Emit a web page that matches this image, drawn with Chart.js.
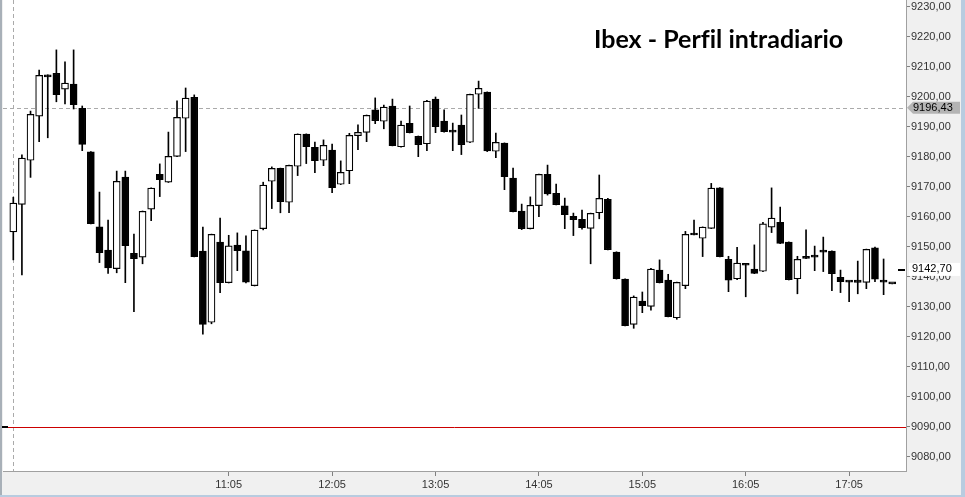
<!DOCTYPE html>
<html><head><meta charset="utf-8">
<script src="https://cdn.jsdelivr.net/npm/chart.js@4.4.1/dist/chart.umd.min.js"></script>
<style>html,body{margin:0;padding:0;background:#f0f0f0;overflow:hidden}#wrap{position:relative;width:965px;height:497px}</style>
</head><body><div id="wrap"><canvas id="c" width="965" height="497"></canvas></div>
<script>
const times = ["9:00","9:05","9:10","9:15","9:20","9:25","9:30","9:35","9:40","9:45","9:50","9:55",
"10:00","10:05","10:10","10:15","10:20","10:25","10:30","10:35","10:40","10:45","10:50","10:55",
"11:00","11:05","11:10","11:15","11:20","11:25","11:30","11:35","11:40","11:45","11:50","11:55",
"12:00","12:05","12:10","12:15","12:20","12:25","12:30","12:35","12:40","12:45","12:50","12:55",
"13:00","13:05","13:10","13:15","13:20","13:25","13:30","13:35","13:40","13:45","13:50","13:55",
"14:00","14:05","14:10","14:15","14:20","14:25","14:30","14:35","14:40","14:45","14:50","14:55",
"15:00","15:05","15:10","15:15","15:20","15:25","15:30","15:35","15:40","15:45","15:50","15:55",
"16:00","16:05","16:10","16:15","16:20","16:25","16:30","16:35","16:40","16:45","16:50","16:55",
"17:00","17:05","17:10","17:15","17:20","17:25","17:30"];
const openP = [9155.0,9164.2,9178.9,9193.6,9206.9,9207.9,9202.6,9204.3,9196.2,9181.7,9156.7,9149.0,
9142.8,9173.3,9147.9,9146.6,9162.6,9174.2,9171.6,9180.2,9192.9,9199.9,9148.6,9124.9,
9151.6,9138.1,9150.6,9148.7,9137.1,9156.1,9171.9,9176.2,9164.9,9176.9,9187.6,9183.2,
9178.9,9182.3,9170.9,9175.4,9187.1,9188.2,9195.7,9191.9,9197.0,9183.4,9191.2,9186.9,
9184.4,9199.3,9192.0,9188.5,9190.6,9184.9,9200.9,9201.6,9181.9,9184.6,9173.0,9162.0,
9156.1,9163.8,9174.2,9167.9,9163.7,9160.2,9159.2,9156.2,9161.4,9165.9,9148.3,9139.3,
9124.2,9132.0,9130.2,9142.3,9139.0,9126.4,9137.1,9154.2,9152.9,9156.2,9169.7,9145.9,
9139.4,9144.1,9142.6,9141.9,9156.6,9158.2,9151.6,9139.4,9146.2,9146.6,9148.5,9148.6,
9139.9,9138.5,9139.0,9138.2,9149.7,9138.5,9137.7];
const highP = [9166.6,9180.7,9195.3,9209.0,9207.4,9215.7,9211.7,9215.7,9197.0,9181.8,9168.3,9159.0,
9175.3,9175.3,9154.3,9162.0,9169.7,9177.7,9188.3,9198.7,9203.0,9200.7,9156.6,9154.3,
9159.6,9153.9,9154.7,9153.7,9155.7,9171.6,9176.7,9176.3,9177.3,9187.7,9187.7,9185.0,
9185.7,9184.3,9178.7,9187.9,9190.7,9194.0,9199.7,9197.3,9199.3,9192.0,9197.0,9187.0,
9198.9,9200.0,9195.7,9191.3,9194.0,9201.0,9205.3,9201.7,9188.0,9184.7,9176.3,9164.3,
9166.7,9174.3,9177.3,9171.0,9166.3,9161.3,9162.3,9161.3,9174.0,9166.2,9148.4,9139.4,
9133.7,9135.0,9142.9,9145.7,9140.9,9138.3,9155.2,9159.0,9156.7,9171.2,9169.8,9146.9,
9149.9,9144.2,9150.7,9158.2,9169.7,9163.3,9151.7,9146.9,9155.7,9150.3,9153.3,9148.7,
9142.3,9138.6,9145.3,9149.3,9150.0,9146.0,9137.7];
const lowP = [9145.7,9140.7,9173.2,9185.1,9186.4,9198.4,9197.7,9196.0,9182.1,9157.7,9144.8,9141.2,
9141.4,9138.1,9128.4,9144.4,9158.8,9166.8,9171.5,9180.1,9181.8,9146.7,9120.9,9124.4,
9134.8,9138.0,9142.1,9138.0,9137.0,9155.7,9162.8,9161.4,9161.4,9173.8,9177.8,9174.8,
9177.1,9168.1,9170.8,9171.1,9182.4,9185.1,9191.1,9189.4,9183.7,9183.3,9188.0,9180.1,
9182.1,9188.1,9188.3,9182.1,9180.8,9184.8,9196.2,9181.8,9179.8,9169.1,9161.7,9155.8,
9156.0,9160.1,9167.3,9164.0,9156.1,9153.8,9155.9,9144.4,9159.4,9149.0,9139.3,9123.7,
9122.9,9128.1,9128.9,9138.0,9126.7,9125.9,9136.1,9154.0,9146.8,9156.1,9146.7,9135.1,
9139.1,9133.4,9141.1,9141.8,9154.8,9151.1,9139.0,9134.4,9146.1,9142.1,9141.8,9135.4,
9134.8,9131.8,9134.4,9136.1,9138.4,9134.1,9137.7];
const closeP = [9164.6,9179.6,9194.2,9207.2,9206.7,9200.8,9204.6,9197.4,9184.2,9157.8,9148.1,9143.0,
9171.9,9150.4,9146.1,9161.9,9169.6,9172.4,9180.2,9193.2,9199.6,9146.8,9124.2,9154.2,
9138.1,9150.4,9148.8,9138.3,9155.6,9170.6,9176.2,9165.1,9177.2,9187.6,9183.4,9178.8,
9183.9,9169.8,9174.9,9187.2,9188.2,9193.9,9192.1,9196.6,9183.8,9190.6,9188.1,9184.1,
9198.6,9190.1,9188.4,9188.3,9184.1,9200.9,9202.9,9182.0,9184.9,9173.4,9161.8,9156.1,
9163.9,9174.2,9167.7,9164.1,9160.8,9159.1,9156.4,9161.2,9166.2,9149.1,9139.4,9123.8,
9133.3,9130.4,9142.6,9138.1,9126.8,9138.2,9154.2,9154.0,9156.6,9169.6,9146.8,9138.9,
9144.6,9143.9,9141.2,9157.7,9159.6,9151.2,9139.1,9145.9,9146.4,9146.8,9148.3,9141.1,
9138.4,9138.3,9138.2,9149.2,9139.3,9138.3,9137.7];
const xTickLabels = ["11:05","12:05","13:05","14:05","15:05","16:05","17:05"];
const yTickValues = [9080,9090,9100,9110,9120,9130,9140,9150,9160,9170,9180,9190,9200,9210,9220,9230];
const refLevel = 9196.43;
const lastPrice = 9142.70;
const redLevel = 9090;
const chartTitle = "Ibex - Perfil intradiario";

const fmt = v => v.toFixed(2).replace('.', ',');

const deco = {
  id: 'deco',
  beforeDraw(chart) {
    const {ctx, chartArea: a} = chart;
    ctx.save();
    ctx.fillStyle = '#f0f0f0';
    ctx.fillRect(0, 0, chart.width, chart.height);
    ctx.fillStyle = '#ffffff';
    ctx.fillRect(a.left, a.top, a.right - a.left, a.bottom - a.top);
    ctx.restore();
  },
  beforeDatasetsDraw(chart) {
    const {ctx, chartArea: a, scales: {x, y}} = chart;
    ctx.save();
    ctx.lineWidth = 1;
    ctx.strokeStyle = '#aaaaaa';
    ctx.setLineDash([4, 3]);
    const yr = Math.round(y.getPixelForValue(refLevel)) + 0.5;
    ctx.beginPath(); ctx.moveTo(a.left, yr); ctx.lineTo(a.right, yr); ctx.stroke();
    const x0 = Math.round(x.getPixelForValue(0)) + 0.5;
    ctx.beginPath(); ctx.moveTo(x0, a.top); ctx.lineTo(x0, a.bottom); ctx.stroke();
    ctx.setLineDash([]);
    ctx.strokeStyle = '#cc0000';
    const yrd = Math.round(y.getPixelForValue(redLevel)) + 0.5;
    ctx.beginPath(); ctx.moveTo(a.left, yrd); ctx.lineTo(a.right, yrd); ctx.stroke();
    ctx.fillStyle = '#000';
    ctx.fillRect(a.left - 1, yrd - 1.5, 6, 2);
    ctx.restore();
  },
  afterDraw(chart) {
    const {ctx, chartArea: a, scales: {y}} = chart;
    ctx.save();
    const yr = y.getPixelForValue(refLevel);
    ctx.fillStyle = '#b4b4b4';
    ctx.beginPath();
    ctx.moveTo(a.right + 1, yr);
    ctx.lineTo(a.right + 7, yr - 6);
    ctx.lineTo(960, yr - 6);
    ctx.lineTo(960, yr + 6);
    ctx.lineTo(a.right + 7, yr + 6);
    ctx.closePath(); ctx.fill();
    ctx.fillStyle = '#000';
    ctx.font = '11px "Liberation Sans", Arial, sans-serif';
    ctx.textBaseline = 'middle';
    ctx.textAlign = 'left';
    ctx.fillText(fmt(refLevel), 913, yr + 0.5);
    const yl = y.getPixelForValue(lastPrice);
    ctx.fillStyle = '#ffffff';
    ctx.fillRect(a.right + 3, yl - 6, 960 - a.right - 3, 13);
    ctx.fillStyle = '#000';
    ctx.fillText(fmt(lastPrice), 912, yl + 0.5);
    ctx.fillRect(a.right - 8, Math.round(yl), 7, 2);
    ctx.font = 'bold 25px Lato, "Open Sans", sans-serif';
    ctx.textBaseline = 'alphabetic';
    try { ctx.textRendering = 'optimizeSpeed'; ctx.letterSpacing = '0.01px'; } catch (e) {}
    ctx.fillText(chartTitle, 594, 48, 251);
    ctx.fillStyle = '#a8b0b8';
    ctx.fillRect(0, 0, 2, chart.height);
    ctx.fillStyle = '#b8cce0';
    ctx.fillRect(chart.width - 4, 0, 4, chart.height);
    ctx.fillRect(0, chart.height - 2, chart.width, 2);
    ctx.restore();
  }
};

new Chart(document.getElementById('c'), {
  type: 'bar',
  data: {
    datasets: [
      {
        label: 'wick',
        data: times.map((t, i) => ({x: i, y: [lowP[i], highP[i]]})),
        backgroundColor: '#000000',
        barThickness: 1,
        grouped: false,
        order: 2
      },
      {
        label: 'body',
        data: times.map((t, i) => ({x: i, y: [Math.min(openP[i], closeP[i]), Math.max(openP[i], closeP[i])]})),
        backgroundColor: times.map((t, i) => (closeP[i] - openP[i] > 0.3 ? '#ffffff' : '#000000')),
        borderColor: '#000000',
        borderWidth: 1.2,
        borderSkipped: false,
        barThickness: 7,
        minBarLength: 2,
        grouped: false,
        order: 1
      }
    ]
  },
  plugins: [deco],
  options: {
    responsive: false,
    animation: false,
    layout: {padding: {left: 3, top: 0, right: 0, bottom: 0}},
    plugins: {legend: {display: false}, tooltip: {enabled: false}},
    scales: {
      x: {
        type: 'linear',
        offset: false,
        min: -1.195,
        max: 103.6,
        afterFit(s) { s.height = 26; s.paddingLeft = 0; s.paddingRight = 0; },
        afterBuildTicks(s) { s.ticks = xTickLabels.map(l => ({value: times.indexOf(l)})); },
        ticks: {
          autoSkip: false, maxRotation: 0, padding: 2,
          color: '#333333',
          font: {family: '"Liberation Sans", Arial, sans-serif', size: 11},
          callback: v => times[v]
        },
        grid: {offset: false, drawOnChartArea: false, drawTicks: true, tickLength: 5, tickColor: '#808080'},
        border: {display: true, color: '#a0a0a0'}
      },
      y: {
        type: 'linear',
        position: 'right',
        min: 9075.33,
        max: 9232.33,
        afterFit(s) { s.width = 59; s.paddingTop = 0; s.paddingBottom = 0; },
        afterBuildTicks(s) { s.ticks = yTickValues.map(v => ({value: v})); },
        ticks: {
          padding: 1,
          color: '#333333',
          font: {family: '"Liberation Sans", Arial, sans-serif', size: 11},
          callback: v => fmt(v)
        },
        grid: {drawOnChartArea: false, drawTicks: true, tickLength: 4, tickColor: '#808080'},
        border: {display: true, color: '#a0a0a0'}
      }
    }
  }
});
</script>
</body></html>
